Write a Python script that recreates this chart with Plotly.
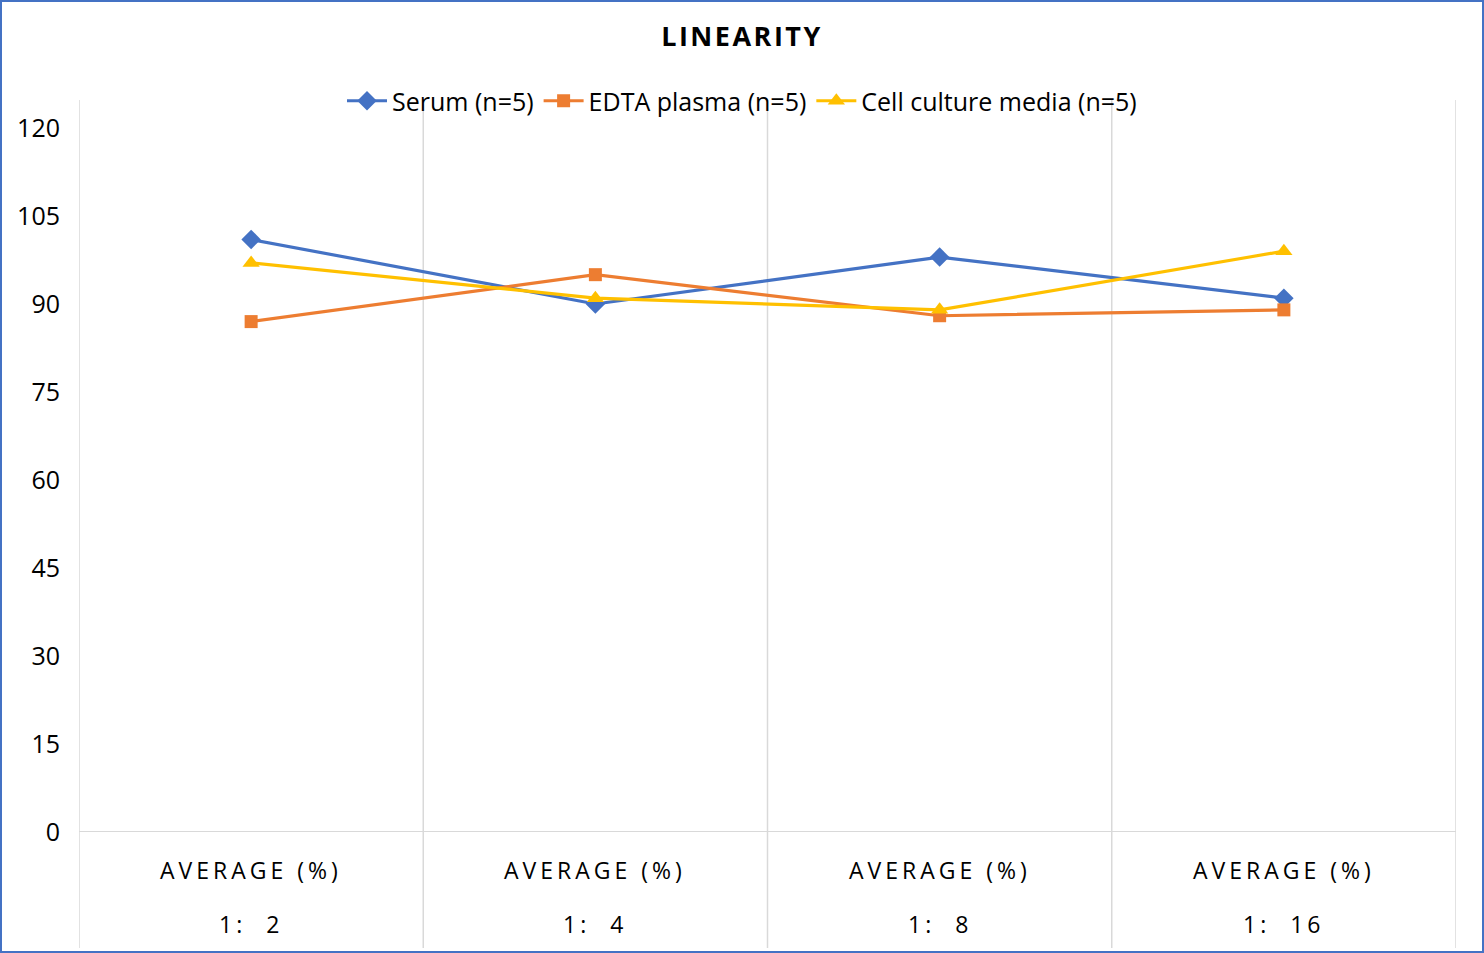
import plotly.graph_objects as go

categories = ["1: \u00a02", "1: \u00a04", "1: \u00a08", "1: \u00a016"]
group_label = "AVERAGE (%)"
serum = [101, 90, 98, 91]
edta = [87, 95, 88, 89]
cell = [97, 91, 89, 99]
y_ticks = [0, 15, 30, 45, 60, 75, 90, 105, 120]

FONT = "'Open Sans', sans-serif"
W, H = 1484, 953
L, R, T, B = 79, 1456, 128, 832
pw, ph = R - L, B - T

def px_x(p):
    return (p - L) / pw

def px_y(p):
    return (B - p) / ph

xs = list(range(len(categories)))
fig = go.Figure()
series = [
    ("Serum (n=5)", serum, "#4472c4", "diamond", 15),
    ("EDTA plasma (n=5)", edta, "#ed7d31", "square", 13),
    ("Cell culture media (n=5)", cell, "#ffc000", "triangle-up", 15),
]
for name, vals, col, sym, sz in series:
    fig.add_trace(go.Scatter(
        x=xs, y=vals, name=name, mode="lines+markers",
        line=dict(color=col, width=3.2),
        marker=dict(symbol=sym, size=sz, color=col),
    ))

shapes = []
for i in range(len(categories) + 1):
    shapes.append(dict(type="line", xref="x", yref="paper",
                       x0=i - 0.5, x1=i - 0.5, y0=px_y(948), y1=px_y(100),
                       line=dict(color="#d9d9d9", width=1.5), layer="below"))
shapes.append(dict(type="line", xref="paper", yref="y", x0=0, x1=1, y0=0, y1=0,
                   line=dict(color="#d9d9d9", width=2), layer="below"))
shapes.append(dict(type="rect", xref="paper", yref="paper",
                   x0=px_x(1), x1=px_x(W - 1), y0=px_y(H - 1), y1=px_y(1),
                   line=dict(color="#4472c4", width=2)))

annotations = []
for i, c in enumerate(categories):
    annotations.append(dict(x=i, y=px_y(870), xref="x", yref="paper", text=group_label,
                            showarrow=False, font=dict(size=23, color="#000", family=FONT),
                            yanchor="middle"))
    annotations.append(dict(x=i, y=px_y(924), xref="x", yref="paper", text=c,
                            showarrow=False, font=dict(size=23, color="#000", family=FONT),
                            yanchor="middle"))

fig.update_layout(
    width=W, height=H,
    margin=dict(l=L, r=W - R, t=T, b=H - B),
    paper_bgcolor="white", plot_bgcolor="white",
    title=dict(text="<b>LINEARITY</b>", x=0.5, xanchor="center", xref="container",
               y=1 - 37 / H, yanchor="middle", yref="container",
               font=dict(size=27, color="#000", family=FONT)),
    legend=dict(orientation="h", x=px_x(742), xanchor="center", y=px_y(101), yanchor="middle",
                font=dict(size=25, color="#000", family=FONT), bgcolor="rgba(0,0,0,0)",
                itemwidth=40, tracegroupgap=0),
    xaxis=dict(range=[-0.5, len(categories) - 0.5], showgrid=False, zeroline=False,
               showticklabels=False, showline=False, fixedrange=True),
    yaxis=dict(range=[0, 120], tickvals=y_ticks, showgrid=False, zeroline=False,
               showline=False, ticks="", ticklabelstandoff=18,
               tickfont=dict(size=25, color="#000", family=FONT)),
    shapes=shapes, annotations=annotations, showlegend=True,
)

post = """
document.body.style.margin = '0';
var gd = document.getElementById('{plot_id}');
gd.querySelectorAll('.annotation-text').forEach(function (t) { t.style.letterSpacing = '4px'; });
var tt = gd.querySelector('.gtitle');
if (tt) { tt.style.letterSpacing = '2.5px'; }
"""
fig.write_html("out.html", post_script=post, config={"displayModeBar": False})
